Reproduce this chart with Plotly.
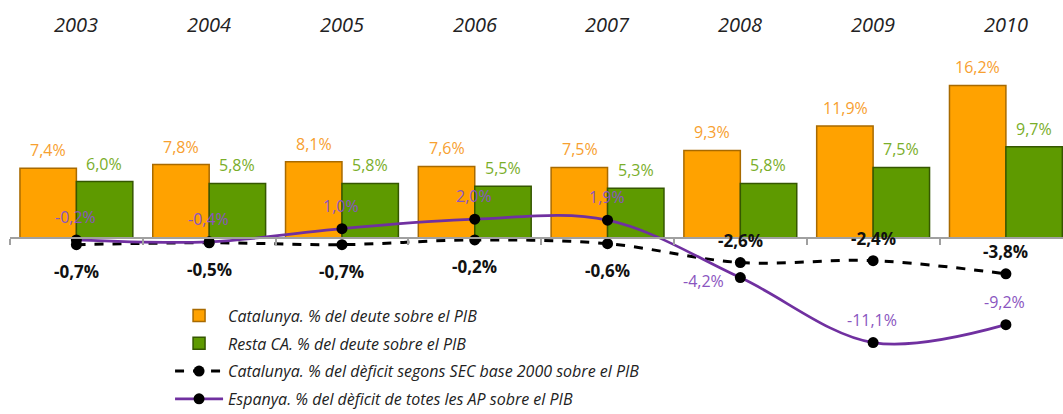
import plotly.graph_objects as go

years = ["2003", "2004", "2005", "2006", "2007", "2008", "2009", "2010"]
cat_deute = [7.4, 7.8, 8.1, 7.6, 7.5, 9.3, 11.9, 16.2]
resta_deute = [6.0, 5.8, 5.8, 5.5, 5.3, 5.8, 7.5, 9.7]
cat_deficit = [-0.7, -0.5, -0.7, -0.2, -0.6, -2.6, -2.4, -3.8]
esp_deficit = [-0.2, -0.4, 1.0, 2.0, 1.9, -4.2, -11.1, -9.2]

names = [
    "Catalunya. % del deute sobre el PIB",
    "Resta CA. % del deute sobre el PIB",
    "Catalunya. % del dèficit segons SEC base 2000 sobre el PIB",
    "Espanya. % del dèficit de totes les AP sobre el PIB",
]

ORANGE = "#FFA200"
GREEN = "#5E9A00"
PURPLE = "#7030A0"
FONT = "Open Sans"

def fmt(v):
    return f"{v:.1f}".replace(".", ",") + "%"

YMIN, YMAX = -15.5, 20.5

fig = go.Figure()
fig.add_trace(go.Bar(x=years, y=cat_deute, name=names[0], legendgroup="a",
                     marker=dict(color=ORANGE, line=dict(color="#A86A00", width=1.5))))
fig.add_trace(go.Bar(x=years, y=resta_deute, name=names[1], legendgroup="b",
                     marker=dict(color=GREEN, line=dict(color="#355700", width=1.5))))
fig.add_trace(go.Scatter(x=years, y=cat_deficit, name=names[2], legendgroup="c", mode="lines+markers",
                         line=dict(color="black", width=3, dash="dash", shape="spline"), marker=dict(color="black", size=11)))
fig.add_trace(go.Scatter(x=years, y=esp_deficit, name=names[3], legendgroup="d", mode="lines+markers",
                         line=dict(color=PURPLE, width=2.7, shape="spline"), marker=dict(color="black", size=11)))

ann = []
for i, y in enumerate(years):
    ann.append(dict(xref="x", yref="y", x=i, y=cat_deute[i], xshift=-28, yshift=18, text=fmt(cat_deute[i]),
                    showarrow=False, font=dict(color="#F7A030", size=16, family=FONT)))
    ann.append(dict(xref="x", yref="y", x=i, y=resta_deute[i], xshift=28, yshift=18, text=fmt(resta_deute[i]),
                    showarrow=False, font=dict(color="#7AAE2A", size=16, family=FONT)))
    dy = -27 if i < 5 else 22
    ann.append(dict(xref="x", yref="y", x=i, y=cat_deficit[i], yshift=dy, text="<b>" + fmt(cat_deficit[i]) + "</b>",
                    showarrow=False, font=dict(color="#111111", size=17, family=FONT)))
    if i == 5:
        ann.append(dict(xref="x", yref="y", x=i, y=esp_deficit[i], xshift=-37, yshift=-3, text=fmt(esp_deficit[i]),
                        showarrow=False, font=dict(color="#8A55C0", size=16, family=FONT)))
    else:
        ann.append(dict(xref="x", yref="y", x=i, y=esp_deficit[i], xshift=-1, yshift=23, text=fmt(esp_deficit[i]),
                        showarrow=False, font=dict(color="#8A55C0", size=16, family=FONT)))
    ann.append(dict(xref="x", yref="paper", x=i, y=1.0, yshift=5, yanchor="bottom", text="<i>" + y + "</i>",
                    showarrow=False, font=dict(color="#222222", size=20, family=FONT)))

fig.update_layout(
    width=1063, height=414,
    margin=dict(l=10, r=0, t=45, b=30, autoexpand=False),
    paper_bgcolor="white", plot_bgcolor="white",
    barmode="group", bargap=0.15, bargroupgap=0,
    showlegend=True,
    legend=dict(x=0.152, y=0.252, xanchor="left", yanchor="top",
                font=dict(size=16, family=FONT, style="italic", color="#222222"),
                bgcolor="rgba(0,0,0,0)", tracegroupgap=4, itemwidth=48),
    annotations=ann,
    xaxis=dict(type="category", range=[-0.5, 7.43], anchor="free", position=(0 - YMIN) / (YMAX - YMIN),
               showline=True, linecolor="#A0A0A0", linewidth=2, ticks="outside", tickson="boundaries", ticklen=6,
               tickcolor="#A0A0A0", tickwidth=2, showticklabels=False, showgrid=False, zeroline=False),
    yaxis=dict(range=[YMIN, YMAX], visible=False, showgrid=False, zeroline=False),
)

fig.write_html("out.html")
